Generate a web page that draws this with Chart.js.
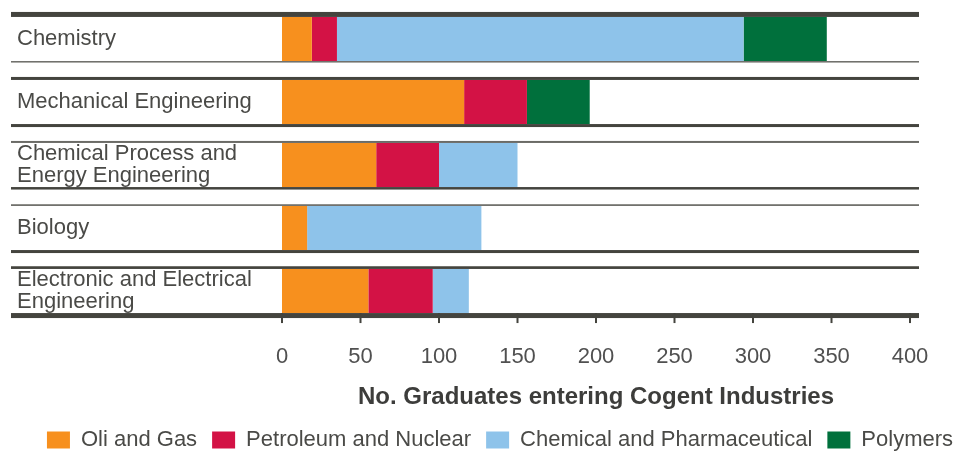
<!DOCTYPE html>
<html>
<head>
<meta charset="utf-8">
<script src="https://cdn.jsdelivr.net/npm/chart.js@4"></script>
<style>
  body { margin: 0; background: #fff; }
  #wrap { width: 961px; height: 452px; }
</style>
</head>
<body>
<div id="wrap"><canvas id="myChart"></canvas></div>
<script>
const categorias = [
    "Chemistry",
    "Mechanical Engineering",
    ["Chemical Process and", "Energy Engineering"],
    "Biology",
    ["Electronic and Electrical", "Engineering"]
];
const oilGas = [19, 116, 60, 16, 55];
const petroleoNuclear = [16, 40, 40, 0, 41];
const quimicaFarma = [259, 0, 50, 111, 23];
const polimeros = [53, 40, 0, 0, 0];
const ticksX = [0, 50, 100, 150, 200, 250, 300, 350, 400];

// line widths above / below each row
const grosorLineas = [[5, 1.5], [3, 3], [2, 2.5], [1.7, 3], [2.7, 5]];

function linea(ctx, x1, x2, y, w) {
    ctx.fillStyle = w < 2.2 ? "#6b6b66" : "#44443e";
    ctx.fillRect(x1, y, x2 - x1, w);
}

const lineasFilas = {
    id: "lineasFilas",
    afterLayout(chart) {
        // nudge the legend a bit to the right
        chart.legend.left += 11;
        chart.legend.right += 11;
    },
    afterDatasetsDraw(chart) {
        const { ctx, chartArea, scales } = chart;
        const barras = chart.getDatasetMeta(0).data;
        const izq = scales.y.left - 6;
        const der = chartArea.right + 9;
        ctx.save();
        barras.forEach((barra, i) => {
            const arriba = barra.y - barra.height / 2;
            const abajo = barra.y + barra.height / 2;
            linea(ctx, izq, der, arriba - grosorLineas[i][0], grosorLineas[i][0]);
            linea(ctx, izq, der, abajo, grosorLineas[i][1]);
        });
        // small tick marks under the last row
        const ultima = barras[barras.length - 1];
        const base = ultima.y + ultima.height / 2;
        ctx.fillStyle = "#44443e";
        scales.x.ticks.forEach(t => {
            const px = scales.x.getPixelForValue(t.value);
            ctx.fillRect(px - 1, base, 2, 10);
        });
        ctx.restore();
    }
};

const data = {
    labels: categorias,
    datasets: [
        { label: "Oli and Gas", data: oilGas, backgroundColor: "#F7901E" },
        { label: "Petroleum and Nuclear", data: petroleoNuclear, backgroundColor: "#D31245" },
        { label: "Chemical and Pharmaceutical", data: quimicaFarma, backgroundColor: "#8EC3EA" },
        { label: "Polymers", data: polimeros, backgroundColor: "#00703C" }
    ]
};

const config = {
    type: "bar",
    data,
    options: {
        indexAxis: "y",
        responsive: true,
        maintainAspectRatio: false,
        animation: false,
        layout: { padding: { left: 17, top: 7.5, right: 0, bottom: 0 } },
        datasets: { bar: { categoryPercentage: 1, barPercentage: 0.7, borderWidth: 0 } },
        scales: {
            x: {
                stacked: true,
                min: 0,
                max: 400,
                afterBuildTicks: scale => { scale.ticks = ticksX.map(v => ({ value: v })); },
                afterFit: scale => { scale.height = 91.5; scale.paddingRight = 51; },
                grid: { display: false, drawTicks: false },
                border: { display: false },
                ticks: {
                    padding: 21,
                    color: "#505050",
                    font: { family: "Liberation Sans", size: 22 }
                },
                title: {
                    display: true,
                    text: "No. Graduates entering Cogent Industries",
                    color: "#3d3d3b",
                    font: { family: "Liberation Sans", size: 24, weight: "bold" },
                    padding: { top: 0, bottom: 2 }
                }
            },
            y: {
                stacked: true,
                afterFit: scale => {
                    scale.width = 265;
                    scale.paddingTop = 0;
                    scale.paddingBottom = 0;
                },
                grid: { display: false, drawTicks: false },
                border: { display: false },
                ticks: {
                    crossAlign: "far",
                    padding: 0,
                    color: "#4a4a47",
                    font: { family: "Liberation Sans", size: 22, lineHeight: 1.0 }
                }
            }
        },
        plugins: {
            tooltip: { enabled: false },
            legend: {
                position: "bottom",
                maxHeight: 38,
                labels: {
                    boxWidth: 23,
                    boxHeight: 17,
                    padding: 15,
                    color: "#4a4a47",
                    font: { family: "Liberation Sans", size: 22 }
                }
            }
        }
    },
    plugins: [lineasFilas]
};

new Chart(document.getElementById("myChart"), config);
</script>
</body>
</html>
